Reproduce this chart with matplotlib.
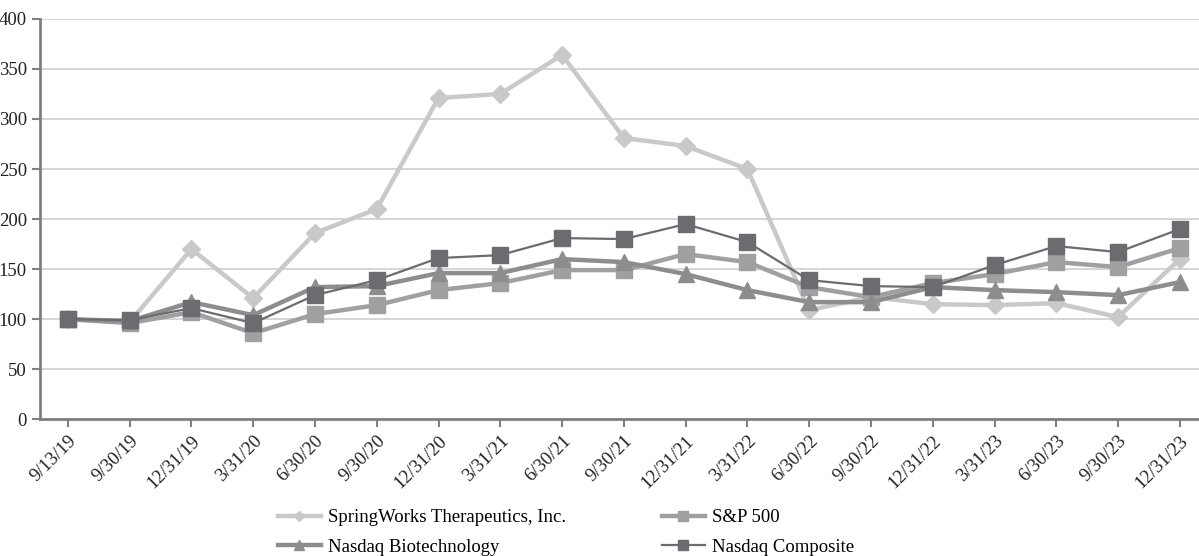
import matplotlib.pyplot as plt

dates = ['9/13/19', '9/30/19', '12/31/19', '3/31/20', '6/30/20', '9/30/20',
         '12/31/20', '3/31/21', '6/30/21', '9/30/21', '12/31/21', '3/31/22',
         '6/30/22', '9/30/22', '12/31/22', '3/31/23', '6/30/23', '9/30/23',
         '12/31/23']

springworks = [100, 97, 170, 121, 186, 210, 321, 325, 364, 281, 273, 250,
               109, 122, 115, 114, 116, 102, 160]
sp500 = [100, 96, 107, 86, 105, 114, 129, 136, 149, 149, 165, 157,
         132, 122, 136, 145, 157, 152, 171]
biotech = [100, 98, 117, 104, 132, 133, 146, 146, 160, 157, 145, 129,
           117, 117, 132, 129, 127, 124, 137]
composite = [100, 99, 111, 96, 124, 139, 161, 164, 181, 180, 195, 177,
             139, 133, 132, 154, 173, 167, 190]

plt.rcParams['font.family'] = ['Liberation Serif', 'DejaVu Serif']

fig, ax = plt.subplots(figsize=(11.99, 5.56), dpi=100)
fig.subplots_adjust(left=0.0334, right=1.0, top=0.966, bottom=0.246)

x = list(range(len(dates)))

l1, = ax.plot(x, springworks, color='#c9c9cb', linewidth=3.2, marker='D',
              markersize=9, label='SpringWorks Therapeutics, Inc.', zorder=3)
l2, = ax.plot(x, sp500, color='#a0a0a3', linewidth=3.2, marker='s',
              markersize=11, label='S&P 500', zorder=4)
l3, = ax.plot(x, biotech, color='#8d8d90', linewidth=3.2, marker='^',
              markersize=11, label='Nasdaq Biotechnology', zorder=5)
l4, = ax.plot(x, composite, color='#6c6c70', linewidth=1.6, marker='s',
              markersize=11, label='Nasdaq Composite', zorder=6)

ax.set_ylim(0, 400)
ax.set_xlim(-0.45, 18.31)
ax.set_yticks(range(0, 401, 50))
ax.set_xticks(x)
ax.set_xticklabels(dates, rotation=45, ha='right', rotation_mode='anchor')
ax.tick_params(labelsize=13.5, colors='#222222', length=6, width=1.5)
ax.tick_params(axis='both', color='#808080')

ax.grid(axis='y', color='#d2d2d2', linewidth=1.3)
ax.set_axisbelow(True)
for s in ['top', 'right']:
    ax.spines[s].set_visible(False)
for s in ['left', 'bottom']:
    ax.spines[s].set_color('#808080')
    ax.spines[s].set_linewidth(2)

fig.legend(handles=[l1, l3, l2, l4], loc='lower center', ncol=2,
           bbox_to_anchor=(0.472, -0.03), frameon=False, fontsize=13.5,
           handlelength=2.3, columnspacing=5.1, labelspacing=0.66,
           handletextpad=0.37, markerscale=0.6)

plt.savefig('out.png', dpi=100)
